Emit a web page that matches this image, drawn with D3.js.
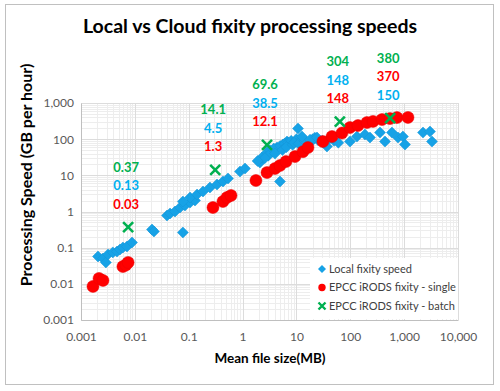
<!DOCTYPE html>
<html>
<head>
<meta charset="utf-8">
<script src="https://cdn.jsdelivr.net/npm/d3@7"></script>
<style>
	body { margin: 0; background: #fff; }
	text { font-family: Lato, "Open Sans", sans-serif; }
</style>
</head>
<body>
<svg id="chart" width="500" height="391"></svg>
<script>
// mean file size (MB) and speed (GB/h) for each series
var localSize  = [0.00207, 0.00256, 0.0029, 0.00317, 0.0039, 0.00466, 0.0053, 0.006, 0.00714, 0.00885,
	0.0208, 0.0226, 0.078, 0.0395, 0.045, 0.0556, 0.069, 0.085, 0.106, 0.131,
	0.078, 0.106, 0.143, 0.184, 0.248, 0.335, 0.433, 0.536, 0.895, 1.11,
	2.1, 2.29, 2.84, 3.52, 4.36, 5.63, 6.68, 4.95, 3.2, 3.8, 5, 6, 7,
	8, 10, 12, 15, 20, 25, 30, 40, 50, 60,
	3, 4, 5.5, 6.5, 8.5, 9, 11, 14, 18, 22, 2.6, 1.9,
	10.7, 12.7, 17.9, 24.1, 36.9, 98.7, 133, 187, 232, 356, 441, 594, 769, 951, 1037, 2240, 3020, 3290];
var localSpeed = [0.057, 0.050, 0.039, 0.065, 0.074, 0.078, 0.089, 0.101, 0.108, 0.139,
	0.318, 0.28, 0.263, 0.775, 0.88, 1.0, 1.29, 1.46, 1.77, 2.01,
	1.89, 2.44, 2.95, 3.57, 4.6, 5.57, 6.74, 8.2, 12.7, 15.4,
	22.6, 31, 42.6, 45, 58.6, 71, 86, 6.74, 50, 55, 65, 75, 80,
	90, 100, 95, 85, 100, 95, 90, 100, 90, 80,
	35, 40, 50, 60, 70, 80, 75, 90, 80, 110, 30, 25,
	196, 118, 97, 111, 62.5, 86, 118, 134, 111, 152, 86, 152, 111, 118, 71, 152, 162, 86];

var singleSize  = [0.00167, 0.00216, 0.00256, 0.006, 0.0068, 0.0075,
	0.282, 0.432, 0.514, 0.61, 1.77, 2.84, 4.0, 4.95, 6.4,
	9.4, 13.2, 16.4, 31, 45.7, 70, 98.7, 139, 204, 264, 388, 546, 736, 1178];
var singleSpeed = [0.0085, 0.0141, 0.0124, 0.030, 0.033, 0.039,
	1.29, 1.89, 2.44, 2.77, 7.2, 11.9, 15.4, 18.7, 24,
	33, 45, 58.6, 86, 118, 148, 209, 238, 288, 310, 348, 370, 395, 400];

var batchSize  = [0.0075, 0.31, 2.84, 64, 550];
var batchSpeed = [0.37, 14.1, 69.6, 304, 380];

// labels written above each batch point (top to bottom)
var labelText = [
	["0.37", "0.13", "0.03"],
	["14.1", "4.5", "1.3"],
	["69.6", "38.5", "12.1"],
	["304", "148", "148"],
	["380", "370", "150"]
];
var labelKind = [
	["batch", "local", "single"],
	["batch", "local", "single"],
	["batch", "local", "single"],
	["batch", "local", "single"],
	["batch", "single", "local"]
];

var xTicks = [0.001, 0.01, 0.1, 1, 10, 100, 1000, 10000];
var yTicks = [0.001, 0.01, 0.1, 1, 10, 100, 1000];
var legendNames = ["Local fixity speed", "EPCC iRODS fixity - single", "EPCC iRODS fixity - batch"];

var colour = { local: "#17a2e6", single: "#ff0000", batch: "#00b050" };
var labelColour = { local: "#00b0f0", single: "#ff0000", batch: "#00b050" };

var svg = d3.select("#chart");
var plotLeft = 81, plotRight = 458, plotTop = 103, plotBottom = 320;

var x = d3.scaleLog().domain([0.001, 10000]).range([plotLeft, plotRight]);
var y = d3.scaleLog().domain([0.001, 1000]).range([plotBottom, plotTop]);

svg.append("rect").attr("x", 5.5).attr("y", 4.5).attr("width", 488).attr("height", 380)
	.style("fill", "#fff").style("stroke", "#c0c0c0");

svg.append("text").attr("x", 250).attr("y", 33).attr("text-anchor", "middle")
	.style("font-size", "19.5px").style("font-weight", "bold").style("fill", "#000")
	.text("Local vs Cloud fixity processing speeds");

// minor + major gridlines
function minors(lo, hi) {
	var out = [];
	for (var p = lo; p < hi; p++) {
		for (var k = 2; k <= 9; k++) out.push(k * Math.pow(10, p));
	}
	return out;
}
var grid = svg.append("g");
grid.selectAll(".vminor").data(minors(-3, 4)).enter().append("line")
	.attr("x1", function(d) { return Math.round(x(d)) + 0.5; })
	.attr("x2", function(d) { return Math.round(x(d)) + 0.5; })
	.attr("y1", plotTop).attr("y2", plotBottom).style("stroke", "#ededed");
grid.selectAll(".hminor").data(minors(-3, 3)).enter().append("line")
	.attr("y1", function(d) { return Math.round(y(d)) + 0.5; })
	.attr("y2", function(d) { return Math.round(y(d)) + 0.5; })
	.attr("x1", plotLeft).attr("x2", plotRight).style("stroke", "#ededed");
grid.selectAll(".vmajor").data(xTicks).enter().append("line")
	.attr("x1", function(d) { return Math.round(x(d)) + 0.5; })
	.attr("x2", function(d) { return Math.round(x(d)) + 0.5; })
	.attr("y1", plotTop).attr("y2", plotBottom).style("stroke", "#dcdcdc");
grid.selectAll(".hmajor").data(yTicks).enter().append("line")
	.attr("y1", function(d) { return Math.round(y(d)) + 0.5; })
	.attr("y2", function(d) { return Math.round(y(d)) + 0.5; })
	.attr("x1", plotLeft).attr("x2", plotRight).style("stroke", "#dcdcdc");

// axes
var fmt = d3.format(",");
var xAxis = svg.append("g").attr("transform", "translate(0," + plotBottom + ")")
	.call(d3.axisBottom(x).tickValues(xTicks).tickFormat(fmt).tickSize(0).tickPadding(12));
var yAxis = svg.append("g").attr("transform", "translate(" + plotLeft + ",0)")
	.call(d3.axisLeft(y).tickValues(yTicks).tickFormat(fmt).tickSize(0).tickPadding(7));
[xAxis, yAxis].forEach(function(a) {
	a.select(".domain").style("stroke", "#bfbfbf");
	a.selectAll("text").style("font-family", "Lato, sans-serif").style("font-size", "12px").style("fill", "#595959");
});

svg.append("text").attr("x", 270).attr("y", 363).attr("text-anchor", "middle")
	.style("font-size", "13.5px").style("font-weight", "bold").style("fill", "#000")
	.text("Mean file size(MB)");
svg.append("text").attr("transform", "translate(32,175) rotate(-90)").attr("text-anchor", "middle")
	.style("font-size", "16px").style("font-weight", "bold").style("fill", "#000")
	.text("Processing Speed (GB per hour)");

function diamond(r) { return "M0," + (-r) + "L" + r + ",0L0," + r + "L" + (-r) + ",0Z"; }
function cross(r) { return "M" + (-r) + "," + (-r) + "L" + r + "," + r + "M" + (-r) + "," + r + "L" + r + "," + (-r); }

var marks = svg.append("g");
marks.selectAll(".local").data(d3.range(localSize.length)).enter().append("path")
	.attr("d", diamond(5.5))
	.attr("transform", function(i) { return "translate(" + x(localSize[i]) + "," + y(localSpeed[i]) + ")"; })
	.style("fill", colour.local).style("stroke", "#1495d6").style("stroke-width", 0.5);
marks.selectAll(".single").data(d3.range(singleSize.length)).enter().append("circle")
	.attr("cx", function(i) { return x(singleSize[i]); })
	.attr("cy", function(i) { return y(singleSpeed[i]); })
	.attr("r", 6)
	.style("fill", colour.single).style("stroke", "#e80000").style("stroke-width", 0.5);
marks.selectAll(".batch").data(d3.range(batchSize.length)).enter().append("path")
	.attr("d", cross(5))
	.attr("transform", function(i) { return "translate(" + x(batchSize[i]) + "," + y(batchSpeed[i]) + ")"; })
	.style("fill", "none").style("stroke", colour.batch).style("stroke-width", 2.6);

// value labels above the batch points
var labels = svg.append("g");
labelText.forEach(function(group, g) {
	var cx = x(batchSize[g]) - 2;
	var cy = y(batchSpeed[g]) - 60;
	group.forEach(function(t, j) {
		labels.append("text").attr("x", cx).attr("y", cy + j * 18.5)
			.attr("text-anchor", "middle").attr("dy", "0.35em")
			.style("font-size", "13px").style("font-weight", "bold")
			.style("fill", labelColour[labelKind[g][j]])
			.text(t);
	});
});

// legend
var legend = svg.append("g");
legend.append("rect").attr("x", 310).attr("y", 258).attr("width", 148).attr("height", 61).style("fill", "#fff");
var kinds = ["local", "single", "batch"];
kinds.forEach(function(k, i) {
	var ly = 269 + i * 18.5;
	var g = legend.append("g").attr("transform", "translate(322," + ly + ")");
	if (k == "local") g.append("path").attr("d", diamond(4)).style("fill", colour.local);
	if (k == "single") g.append("circle").attr("r", 3.7).style("fill", colour.single);
	if (k == "batch") g.append("path").attr("d", cross(3.5)).style("stroke", colour.batch).style("stroke-width", 2.4);
	legend.append("text").attr("x", 329).attr("y", ly).attr("dy", "0.35em")
		.style("font-size", "11px").style("fill", "#404040").text(legendNames[i]);
});
</script>
</body>
</html>
